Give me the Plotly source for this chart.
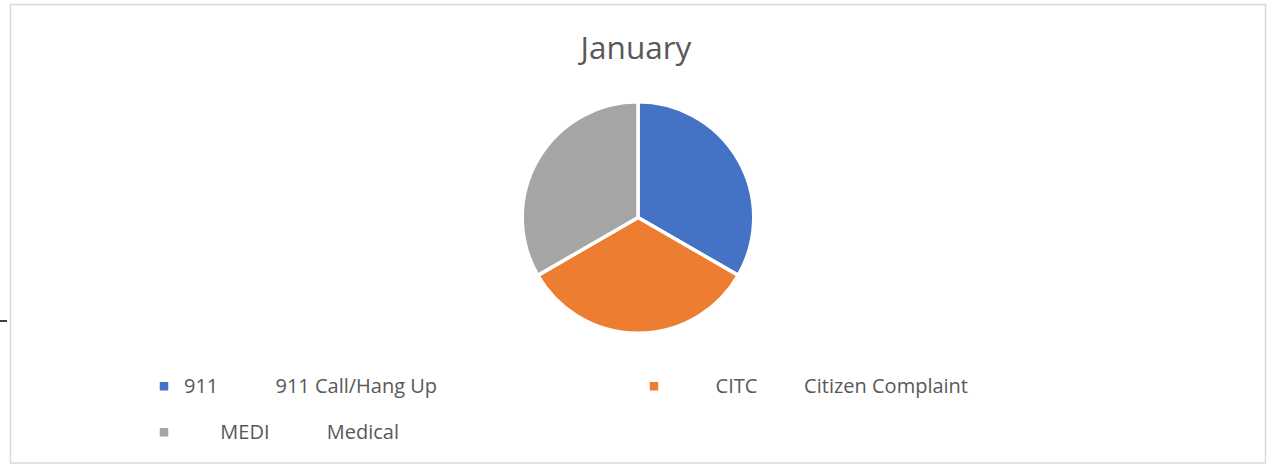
import plotly.graph_objects as go

codes = ["911", "CITC", "MEDI"]
descriptions = ["911 Call/Hang Up", "Citizen Complaint", "Medical"]
values = [1, 1, 1]
colors = ["#4472C4", "#ED7D31", "#A5A5A5"]
title_text = "January"

NB = "\u00a0"
pre = ["", NB * 8, NB * 7]
gaps = [NB * 11, NB * 9, NB * 11]
labels = ['<span style="font-size:20px">' + p + c + g + d + "</span><br>" + NB
          for p, c, g, d in zip(pre, codes, gaps, descriptions)]

W, H = 1272, 464
LW = 3.5
pad = LW / 2

fig = go.Figure()
fig.add_trace(go.Pie(
    labels=labels,
    values=values,
    sort=False,
    direction="clockwise",
    rotation=0,
    textinfo="none",
    hoverinfo="percent",
    marker=dict(colors=colors, line=dict(color="#FFFFFF", width=LW)),
    domain=dict(x=[(524 - pad) / W, (752 + pad) / W],
                y=[(H - 332 - pad) / H, (H - 103 + pad) / H]),
))

fig.update_layout(
    width=W, height=H,
    margin=dict(l=0, r=0, t=0, b=0, autoexpand=False),
    paper_bgcolor="#FFFFFF",
    plot_bgcolor="#FFFFFF",
    font=dict(family="Open Sans, sans-serif", color="#595959", size=16.5),
    title=dict(text=title_text, x=0.5, xanchor="center", y=1 - 48 / H, yanchor="middle",
               font=dict(size=31.5, color="#595959")),
    showlegend=True,
    legend=dict(
        orientation="h",
        x=(162 - 18) / W, xanchor="left",
        y=1 - 369 / H, yanchor="top",
        entrywidth=445, entrywidthmode="pixels",
        valign="top",
        font=dict(size=16.5, color="#595959"),
        bgcolor="rgba(0,0,0,0)",
    ),
    shapes=[
        dict(type="rect", xref="paper", yref="paper",
             x0=10.5 / W, x1=1265.5 / W, y0=1 - 463 / H, y1=1 - 4.5 / H,
             line=dict(color="#D9D9D9", width=1.5), fillcolor="rgba(0,0,0,0)", layer="below"),
        dict(type="line", xref="paper", yref="paper",
             x0=0, x1=7 / W, y0=1 - 321 / H, y1=1 - 321 / H,
             line=dict(color="#000000", width=1.5)),
    ],
)

fig.write_html("out.html", config={"displayModeBar": False},
               post_script="document.body.style.margin='0';document.body.style.overflow='hidden';")
